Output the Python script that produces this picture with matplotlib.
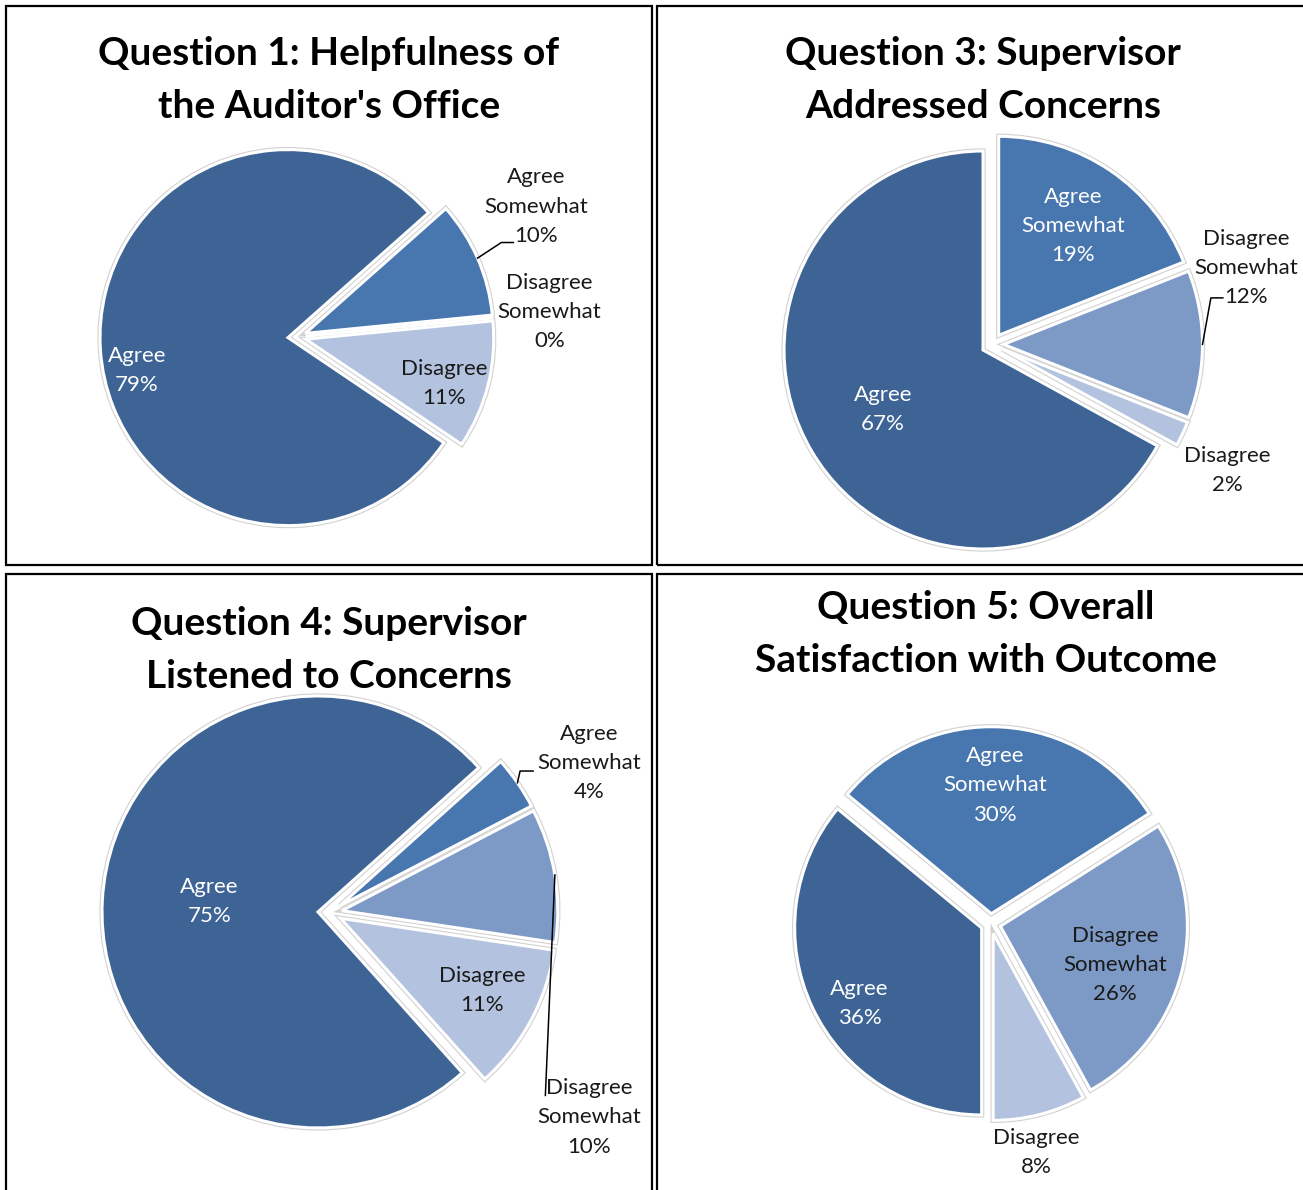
import numpy as np
import matplotlib.pyplot as plt
from matplotlib.patches import Rectangle

W, H = 1303, 1190

# data
categories = ['Agree', 'Agree\nSomewhat', 'Disagree\nSomewhat', 'Disagree']
slice_colors = ['#3E6496', '#4876AE', '#7D9AC7', '#B3C3DF']

titles = ['Question 1: Helpfulness of\nthe Auditor\'s Office',
          'Question 3: Supervisor\nAddressed Concerns',
          'Question 4: Supervisor\nListened to Concerns',
          'Question 5: Overall\nSatisfaction with Outcome']

q1_values = [79, 10, 0, 11]
q3_values = [67, 19, 12, 2]
q4_values = [75, 4, 10, 11]
q5_values = [36, 30, 26, 8]
all_values = [q1_values, q3_values, q4_values, q5_values]

# layout (pixel units, y measured from the top)
panels = [(6, 6, 652, 565), (657, 6, 1320, 565),
          (6, 574, 652, 1210), (657, 574, 1320, 1210)]
title_pos = [(329, 80), (983, 80), (329, 650), (986, 634)]
centers = [(297, 337), (992.5, 344.4), (330, 912.6), (990.7, 923.7)]
radii = [188, 199, 216, 187]
start_angles = [-34, -28.8, -48.1, -90]
explode_px = [9, 11, 12, 10]
# label placement: (distance in radii, angle shift from wedge middle)
label_place = [
    [(0.87, 8), (1.45, 5), (1.35, 0), (0.82, -3.5)],
    [(0.64, 0), (0.72, 0), (1.33, 16.8), (1.34, -3)],
    [(0.56, -2), (1.385, -4.7), (1.53, -47.8), (0.79, 1.3)],
    [(0.82, 6), (0.74, 1.8), (0.70, -4), (1.245, -3.2)],
]
# leader lines: slice index -> (end dx, end dy from label centre, elbow length)
leaders = [
    {1: (-23, 36, 12)},
    {2: (-23, 30, 12)},
    {1: (-56, 8, 13), 2: (-44, -22, 0)},
    {},
]

title_font = dict(family=['Lato', 'DejaVu Sans'], fontsize=28, fontweight='bold')
label_font = dict(family=['Lato', 'DejaVu Sans'], fontsize=16)

fig = plt.figure(figsize=(W / 100, H / 100), dpi=100)
ax = fig.add_axes([0, 0, 1, 1])

for i, values in enumerate(all_values):
    cx, cy = centers[i]
    r = radii[i]
    e = explode_px[i]
    common = dict(colors=slice_colors, startangle=start_angles[i], counterclock=False,
                  explode=[e] * len(values), center=(cx, H - cy), radius=r)
    ax.pie(values, wedgeprops=dict(edgecolor='#d2d2d2', linewidth=3.8), **common)
    wedges, _ = ax.pie(values, wedgeprops=dict(edgecolor='white', linewidth=2.2), **common)

    for j, w in enumerate(wedges):
        mid = 0.5 * (w.theta1 + w.theta2)
        dist, shift = label_place[i][j]
        a = np.deg2rad(mid + shift)
        tx = cx + dist * r * np.cos(a)
        ty = (H - cy) + dist * r * np.sin(a)
        inside = dist < 1
        col = 'white' if (inside and j < 2) else '#1a1a1a'
        ax.text(tx, ty, f'{categories[j]}\n{values[j]}%', ha='center', va='center',
                ma='center', color=col, linespacing=1.57, **label_font)

        if j in leaders[i]:
            dx, dy, el = leaders[i][j]
            m = np.deg2rad(mid)
            sx = w.center[0] + r * np.cos(m)
            sy = w.center[1] + r * np.sin(m)
            ex, ey = tx + dx, ty - dy
            ax.plot([sx, ex - el, ex], [sy, ey, ey], color='black', lw=1.1)

    x0, y0, x1, y1 = panels[i]
    ax.add_patch(Rectangle((x0, H - y1), x1 - x0, y1 - y0, fill=False,
                           edgecolor='black', linewidth=1.6))
    tx, ty = title_pos[i]
    ax.text(tx, H - ty, titles[i], ha='center', va='center', ma='center',
            color='black', linespacing=1.6, **title_font)

ax.set_xlim(0, W)
ax.set_ylim(0, H)
ax.set_aspect('equal')
ax.axis('off')

fig.savefig('out.png', dpi=100)
